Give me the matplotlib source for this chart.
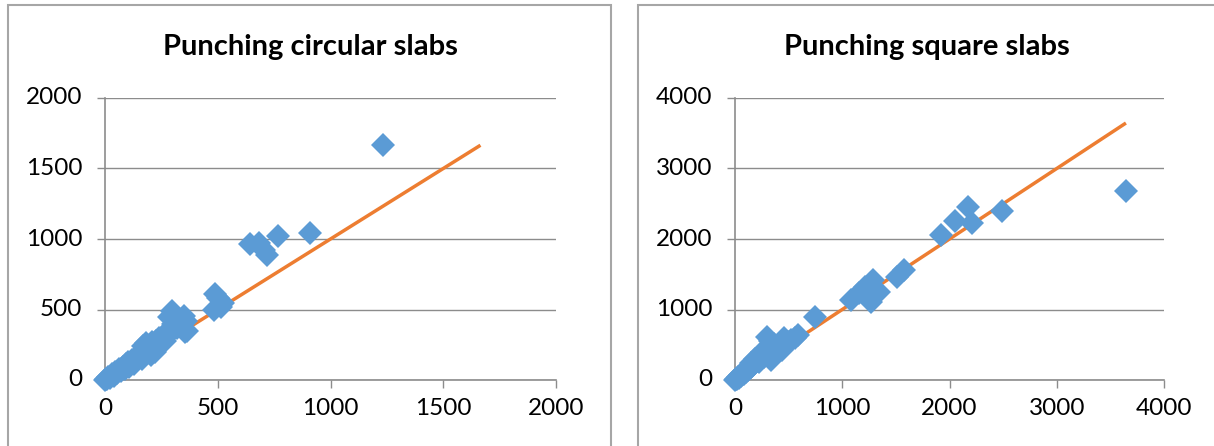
import matplotlib
matplotlib.use("Agg")
import matplotlib.pyplot as plt
from matplotlib.patches import Rectangle

plt.rcParams['font.family'] = ['Lato', 'DejaVu Sans']

# Punching tests on circular slabs: (calculated, tested) pairs
circ_x = [0, 5, 10, 15, 20, 30, 40, 45, 55, 60, 70, 80, 90, 95, 100, 105, 110,
          120, 130, 140, 150, 160, 165, 170, 175, 180, 185, 190, 200, 205, 210,
          220, 225, 230, 240, 245, 250, 260, 265, 270, 280, 285, 290, 295, 300,
          310, 320, 330, 340, 350, 355, 360, 365, 485, 490, 500, 515, 525, 645,
          683, 706, 718, 765, 908, 1234]
circ_y = [0, 8, 5, 20, 15, 40, 30, 60, 50, 80, 65, 95, 80, 110, 130, 95, 120,
          140, 115, 160, 170, 200, 150, 240, 185, 260, 210, 230, 250, 180, 270,
          200, 280, 240, 300, 260, 290, 310, 280, 330, 320, 450, 360, 490, 400,
          380, 370, 430, 395, 455, 340, 420, 345, 495, 610, 580, 520, 545, 962,
          974, 922, 887, 1024, 1045, 1665]

# Punching tests on square slabs
sq_x = [0, 10, 20, 30, 40, 50, 60, 70, 80, 90, 100, 110, 120, 130, 140, 150,
        160, 170, 180, 190, 200, 210, 220, 230, 240, 250, 260, 270, 280, 295,
        300, 320, 330, 340, 350, 360, 380, 400, 420, 440, 450, 460, 480, 500,
        520, 560, 590, 745, 1086, 1159, 1214, 1269, 1269, 1287, 1342, 1506,
        1580, 1920, 2048, 2175, 2212, 2494, 3645]
sq_y = [0, 20, 10, 40, 30, 70, 50, 100, 90, 130, 110, 160, 140, 190, 170, 240,
        200, 260, 230, 300, 280, 330, 260, 360, 310, 400, 350, 330, 420, 610,
        380, 350, 560, 290, 450, 510, 400, 470, 520, 430, 560, 600, 500, 540,
        570, 600, 640, 900, 1137, 1231, 1325, 1278, 1113, 1420, 1255, 1467,
        1561, 2057, 2255, 2458, 2231, 2401, 2684]

circ_ticks = [0, 500, 1000, 1500, 2000]
sq_ticks = [0, 1000, 2000, 3000, 4000]

BLUE = '#5B9BD5'
ORANGE = '#ED7D31'
GRID = '#8C8C8C'
BORDER = '#A6A6A6'

W, H = 1214, 446
fig = plt.figure(figsize=(W / 100, H / 100), dpi=100)


def fx(px):
    return px / W


def fy(py):
    return 1 - py / H


# chart-area frames
for left, right in [(8, 611), (638, 1218)]:
    fig.patches.append(Rectangle((fx(left), fy(460)), fx(right - left), (460 - 5) / H,
                                 transform=fig.transFigure, fill=False,
                                 edgecolor=BORDER, linewidth=1.5, zorder=0))

panels = [
    (105, 556, circ_x, circ_y, circ_ticks, 'Punching circular slabs', 310),
    (735, 1164, sq_x, sq_y, sq_ticks, 'Punching square slabs', 927),
]

for x0, x1, xs, ys, ticks, title, tcx in panels:
    ax = fig.add_axes([fx(x0), fy(380), fx(x1 - x0), (380 - 98) / H])
    top = max(max(xs), max(ys))
    ax.plot([0, top], [0, top], color=ORANGE, linewidth=2.5, zorder=2,
            solid_capstyle='butt')
    ax.plot(xs, ys, linestyle='none', marker='D', markersize=12.3,
            markerfacecolor=BLUE, markeredgewidth=0, zorder=3, clip_on=False)
    ax.set_xlim(ticks[0], ticks[-1])
    ax.set_ylim(ticks[0], ticks[-1])
    ax.set_xticks(ticks)
    ax.set_yticks(ticks)
    ax.grid(axis='y', color=GRID, linewidth=1.0)
    ax.set_axisbelow(True)
    for side in ('top', 'right'):
        ax.spines[side].set_visible(False)
    for side in ('left', 'bottom'):
        ax.spines[side].set_color(GRID)
        ax.spines[side].set_linewidth(1.2)
    ax.tick_params(axis='both', direction='out', length=5.5, width=1.0,
                   color=GRID, labelsize=17.5, labelcolor='black')
    ax.tick_params(axis='y', pad=11)
    ax.tick_params(axis='x', pad=7.5)
    for lab in ax.get_yticklabels():
        lab.set_verticalalignment('center')
    ax.patch.set_alpha(0)
    fig.text(fx(tcx), fy(47), title, ha='center', va='center',
             fontsize=21, fontweight='bold', color='black')

fig.savefig('out.png', dpi=100)
